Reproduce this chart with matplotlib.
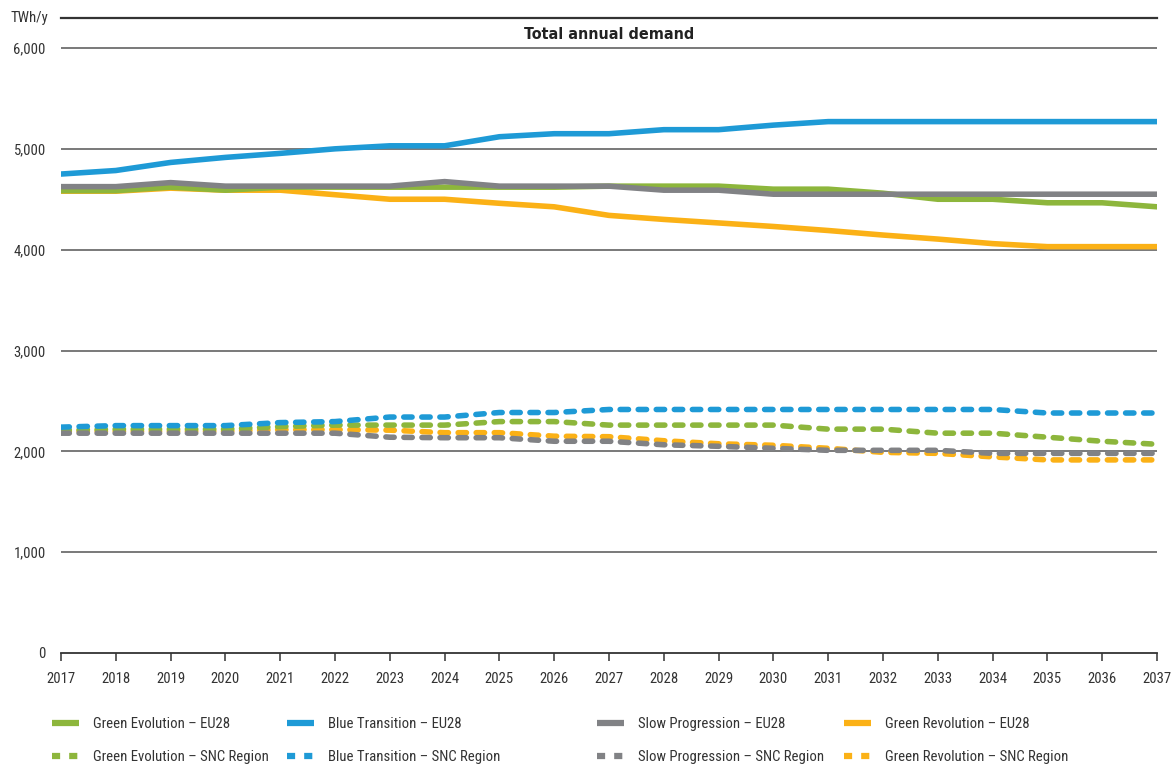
import matplotlib.pyplot as plt
import matplotlib.font_manager as fm
from matplotlib.ticker import FuncFormatter

# pick a condensed sans face if one is installed
def pick_font(prefs, bold):
    found = {}
    for f in fm.fontManager.ttflist:
        fn = f.fname.lower().replace('_', '').split('/')[-1]
        if 'italic' in fn or 'oblique' in fn:
            continue
        if bold:
            if 'bold' not in fn or 'semibold' in fn or 'extrabold' in fn:
                continue
        else:
            if any(k in fn for k in ('bold', 'light', 'thin', 'medium', 'black')):
                continue
        for p in prefs:
            if fn.startswith(p) and p not in found:
                found[p] = f.fname
    for p in prefs:
        if p in found:
            return fm.FontProperties(fname=found[p]), p
    return None, None

body_prefs = ['liberationsansnarrow', 'notosans-extracondensed', 'robotocondensed',
              'notosans-condensed', 'dejavusanscondensed', 'opensans-condensed']
title_prefs = ['liberationsansnarrow', 'notosans-semicondensed', 'dejavusanscondensed',
               'notosans-condensed', 'notosans-extracondensed']

fp, body_name = pick_font(body_prefs, False)
fpb, title_name = pick_font(title_prefs, True)
narrow = fp is not None
if fp is None:
    fp = fm.FontProperties(family='DejaVu Sans')
if fpb is None:
    fpb = fm.FontProperties(family='DejaVu Sans', weight='bold')
fp.set_size(10.6 if narrow else 9.4)
title_sizes = {'notosans-semicondensed': 12.5, 'notosans-condensed': 13.5,
               'notosans-extracondensed': 14.5}
fpb.set_size(title_sizes.get(title_name, 11.5 if narrow else 9.6))

years = list(range(2017, 2038))

# EU28 totals (TWh/y)
ge_eu = [4585, 4585, 4620, 4590, 4620, 4620, 4620, 4620, 4620, 4620, 4630,
         4630, 4630, 4600, 4600, 4560, 4500, 4500, 4465, 4465, 4425]
bt_eu = [4750, 4785, 4865, 4915, 4955, 5000, 5030, 5030, 5120, 5150, 5150,
         5190, 5190, 5235, 5270, 5270, 5270, 5270, 5270, 5270, 5270]
sp_eu = [4625, 4625, 4665, 4630, 4630, 4630, 4630, 4675, 4630, 4630, 4630,
         4590, 4590, 4550, 4550, 4550, 4550, 4550, 4550, 4550, 4550]
gr_eu = [4580, 4580, 4610, 4590, 4590, 4545, 4500, 4500, 4460, 4425, 4340,
         4300, 4265, 4230, 4190, 4145, 4105, 4060, 4030, 4030, 4030]

# SNC region totals (TWh/y)
ge_snc = [2210, 2220, 2220, 2220, 2245, 2260, 2260, 2260, 2295, 2295, 2260,
          2260, 2260, 2260, 2220, 2220, 2180, 2180, 2140, 2100, 2070]
bt_snc = [2240, 2255, 2255, 2255, 2285, 2295, 2340, 2340, 2385, 2385, 2415,
          2415, 2415, 2415, 2415, 2415, 2415, 2415, 2380, 2380, 2380]
sp_snc = [2180, 2180, 2180, 2180, 2180, 2180, 2140, 2135, 2135, 2100, 2100,
          2065, 2050, 2030, 2010, 2010, 2010, 1980, 1980, 1980, 1980]
gr_snc = [2200, 2200, 2200, 2200, 2215, 2215, 2210, 2185, 2185, 2150, 2145,
          2105, 2075, 2060, 2030, 1990, 1980, 1945, 1915, 1915, 1915]

scenarios = ['Green Evolution', 'Blue Transition', 'Slow Progression', 'Green Revolution']

green = '#8db63c'
blue = '#1e9ad6'
grey = '#818285'
orange = '#fbb116'

fig = plt.figure(figsize=(11.76, 7.67), dpi=100)
ax = fig.add_axes([61 / 1176, 1 - 653 / 767, 1096 / 1176, 635 / 767])

ymax = 6000 * 635 / 605
for y in range(1000, 7000, 1000):
    ax.axhline(y, color='#555555', lw=1.1, zorder=1)
ax.axhline(ymax, color='#333333', lw=1.6, clip_on=False, zorder=1)

lw = 4.0
dash = (1.5, 1.75)

# draw order: orange, green, grey, blue
ax.plot(years, gr_snc, color=orange, lw=lw, dashes=dash, dash_capstyle='round', zorder=2)
ax.plot(years, ge_snc, color=green, lw=lw, dashes=dash, dash_capstyle='round', zorder=2)
ax.plot(years, sp_snc, color=grey, lw=lw, dashes=dash, dash_capstyle='round', zorder=2)
ax.plot(years, bt_snc, color=blue, lw=lw, dashes=dash, dash_capstyle='round', zorder=2)

ax.plot(years, gr_eu, color=orange, lw=lw, solid_capstyle='round', zorder=3)
ax.plot(years, ge_eu, color=green, lw=lw, solid_capstyle='round', zorder=3)
ax.plot(years, sp_eu, color=grey, lw=lw, solid_capstyle='round', zorder=3)
ax.plot(years, bt_eu, color=blue, lw=lw, solid_capstyle='round', zorder=3)

ax.set_xlim(2017, 2037)
ax.set_ylim(0, ymax)
ax.set_xticks(years)
ax.set_yticks(range(0, 7000, 1000))
ax.yaxis.set_major_formatter(FuncFormatter(lambda v, p: f'{int(v):,}'))

for s in ['top', 'right', 'left']:
    ax.spines[s].set_visible(False)
ax.spines['bottom'].set_color('#333333')
ax.spines['bottom'].set_linewidth(1.3)
ax.tick_params(axis='x', length=6, width=1.1, color='#333333', pad=8, labelcolor='#333333')
ax.tick_params(axis='y', length=0, pad=11, labelcolor='#333333')
for lbl in ax.get_xticklabels() + ax.get_yticklabels():
    lbl.set_fontproperties(fp)

ax.text(0.5, 6130, 'Total annual demand', transform=ax.get_yaxis_transform(),
        ha='center', va='center', fontproperties=fpb, color='#222222')
fig.text(48 / 1176, 1 - 18 / 767, 'TWh/y', ha='right', va='center',
         fontproperties=fp, color='#333333')

# one small legend per scenario column, placed like the reference
col_x = [52, 287, 597, 844]
for name, c, x in zip(scenarios, [green, blue, grey, orange], col_x):
    h = [plt.Line2D([], [], color=c, lw=4.5, solid_capstyle='butt'),
         plt.Line2D([], [], color=c, lw=4.5, dashes=(1.3, 1.45), dash_capstyle='butt')]
    fig.legend(h, [name + ' \u2013 EU28', name + ' \u2013 SNC Region'],
               loc='upper left', bbox_to_anchor=(x / 1176, 1 - 717 / 767),
               frameon=False, prop=fp, handlelength=1.85, handletextpad=0.95,
               borderpad=0, borderaxespad=0, labelspacing=1.3, labelcolor='#333333')

fig.savefig('out.png', dpi=100)
